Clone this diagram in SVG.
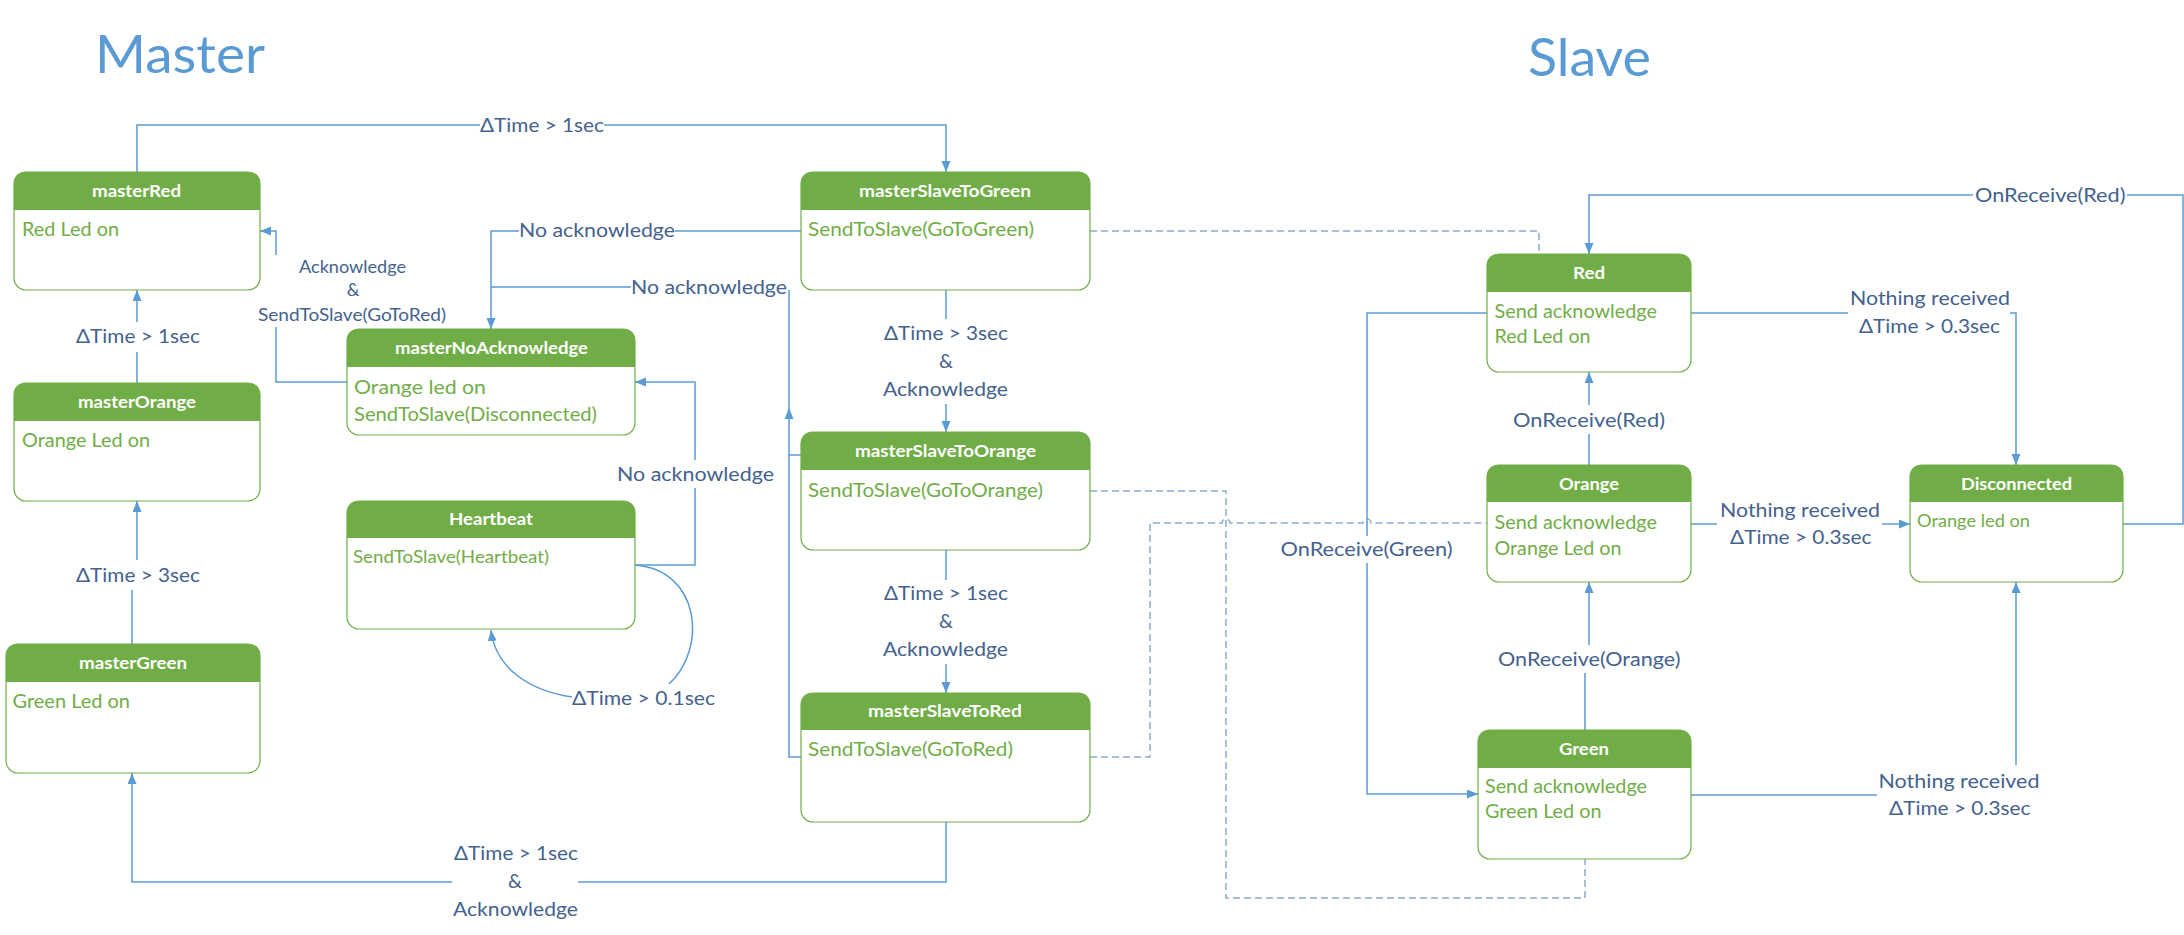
<svg xmlns="http://www.w3.org/2000/svg" width="2184" height="935" viewBox="0 0 2184 935">
<defs>
<style>
.box{fill:#fff;stroke:#70AD47;stroke-width:1.2}
.hd{fill:#70AD47}
.tt{font-family:Lato,"Liberation Sans",sans-serif;font-weight:bold;font-size:17px;fill:#fff}
.bd{font-family:Lato,"Liberation Sans",sans-serif;font-size:18.5px;fill:#70AD47}
.lb{font-family:Lato,"Liberation Sans",sans-serif;font-size:19.5px;fill:#44628E}
.lbs{font-family:Lato,"Liberation Sans",sans-serif;font-size:17.7px;fill:#44628E}
.ti{font-family:Lato,"Liberation Sans",sans-serif;font-size:53px;fill:#5B9BD5}
.cn{fill:none;stroke:#5B9BD5;stroke-width:1.5}
.ds{fill:none;stroke:#8FAACC;stroke-width:1.5;stroke-dasharray:7 4}
</style>
<marker id="ar" markerUnits="userSpaceOnUse" markerWidth="12" markerHeight="10" refX="11" refY="4.5" orient="auto">
<path d="M0,0 L11,4.5 L0,9 z" fill="#5B9BD5"/>
</marker>
</defs>
<rect width="2184" height="935" fill="#fff"/>

<text class="ti" x="95" y="73" textLength="170" lengthAdjust="spacingAndGlyphs">Master</text>
<text class="ti" x="1528" y="76" textLength="123" lengthAdjust="spacingAndGlyphs">Slave</text>

<g id="connectors">
<path class="cn" d="M137,172 V125 H480 M604,125 H946 V172" marker-end="url(#ar)"/>
<path class="cn" d="M137,383 V352 M137,322 V290" marker-end="url(#ar)"/>
<path class="cn" d="M132,644 V590 M137,560 V501" marker-end="url(#ar)"/>
<path class="cn" d="M946,822 V882 H578 M452,882 H132 V773" marker-end="url(#ar)"/>
<path class="cn" d="M347,382 H276 V327 M276,255 V231 H260" marker-end="url(#ar)"/>
<path class="cn" d="M801,231 H675 M519,231 H491 V329" marker-end="url(#ar)"/>
<path class="cn" d="M801,757 H789 V290 M801,455 H789 M631,287 H491"/>
<polygon points="789,408 784.5,419 793.5,419" fill="#5B9BD5"/>
<path class="cn" d="M635,565 H695 V488 M695,460 V382 H635" marker-end="url(#ar)"/>
<path class="cn" d="M635,565 C700,570 708,648 669,684"/>
<path class="cn" d="M572,697 C525,690 495,665 491,630" marker-end="url(#ar)"/>
<path class="cn" d="M946,290 V319 M946,404 V432" marker-end="url(#ar)"/>
<path class="cn" d="M946,550 V580 M946,664 V693" marker-end="url(#ar)"/>
<path class="ds" d="M1090,231 H1539 V254"/>
<path class="ds" d="M1090,491 H1226 V898 H1585 V859"/>
<path class="ds" d="M1090,757 H1150 V523 H1222 a4,4 0 0 1 8,0 H1363 a4,4 0 0 1 8,0 H1487"/>
<path class="cn" d="M1487,313 H1367 V536 M1367,563 V794 H1478" marker-end="url(#ar)"/>
<path class="cn" d="M2123,524 H2183 V195 H2127 M1973,195 H1589 V254" marker-end="url(#ar)"/>
<path class="cn" d="M1691,313 H1848 M2010,313 H2016 V465" marker-end="url(#ar)"/>
<path class="cn" d="M1589,465 V434 M1589,405 V372" marker-end="url(#ar)"/>
<path class="cn" d="M1691,524 H1717 M1882,524 H1910" marker-end="url(#ar)"/>
<path class="cn" d="M1585,730 V673 M1589,645 V582" marker-end="url(#ar)"/>
<path class="cn" d="M1691,795 H1877 M2016,765 V582" marker-end="url(#ar)"/>
</g>

<g id="labels">
<text class="lb" x="480" y="132" textLength="124" lengthAdjust="spacingAndGlyphs">ΔTime &gt; 1sec</text>
<text class="lb" x="519" y="237" textLength="156" lengthAdjust="spacingAndGlyphs">No acknowledge</text>
<text class="lb" x="631" y="294" textLength="156" lengthAdjust="spacingAndGlyphs">No acknowledge</text>
<text class="lbs" x="299" y="273" textLength="107" lengthAdjust="spacingAndGlyphs">Acknowledge</text>
<text class="lbs" x="353" y="296" text-anchor="middle">&amp;</text>
<text class="lbs" x="258" y="321" textLength="188" lengthAdjust="spacingAndGlyphs">SendToSlave(GoToRed)</text>
<text class="lb" x="76" y="343" textLength="124" lengthAdjust="spacingAndGlyphs">ΔTime &gt; 1sec</text>
<text class="lb" x="76" y="582" textLength="124" lengthAdjust="spacingAndGlyphs">ΔTime &gt; 3sec</text>
<text class="lb" x="617" y="481" textLength="157" lengthAdjust="spacingAndGlyphs">No acknowledge</text>
<text class="lb" x="572" y="705" textLength="143" lengthAdjust="spacingAndGlyphs">ΔTime &gt; 0.1sec</text>
<text class="lb" x="454" y="860" textLength="124" lengthAdjust="spacingAndGlyphs">ΔTime &gt; 1sec</text>
<text class="lb" x="515" y="888" text-anchor="middle">&amp;</text>
<text class="lb" x="453" y="916" textLength="125" lengthAdjust="spacingAndGlyphs">Acknowledge</text>
<text class="lb" x="884" y="340" textLength="124" lengthAdjust="spacingAndGlyphs">ΔTime &gt; 3sec</text>
<text class="lb" x="946" y="368" text-anchor="middle">&amp;</text>
<text class="lb" x="883" y="396" textLength="125" lengthAdjust="spacingAndGlyphs">Acknowledge</text>
<text class="lb" x="884" y="600" textLength="124" lengthAdjust="spacingAndGlyphs">ΔTime &gt; 1sec</text>
<text class="lb" x="946" y="628" text-anchor="middle">&amp;</text>
<text class="lb" x="883" y="656" textLength="125" lengthAdjust="spacingAndGlyphs">Acknowledge</text>
<text class="lb" x="1280.5" y="556" textLength="172" lengthAdjust="spacingAndGlyphs">OnReceive(Green)</text>
<text class="lb" x="1975" y="202" textLength="150.5" lengthAdjust="spacingAndGlyphs">OnReceive(Red)</text>
<text class="lb" x="1850" y="305" textLength="160" lengthAdjust="spacingAndGlyphs">Nothing received</text>
<text class="lb" x="1859" y="333" textLength="141" lengthAdjust="spacingAndGlyphs">ΔTime &gt; 0.3sec</text>
<text class="lb" x="1513" y="427" textLength="152" lengthAdjust="spacingAndGlyphs">OnReceive(Red)</text>
<text class="lb" x="1720" y="517" textLength="160" lengthAdjust="spacingAndGlyphs">Nothing received</text>
<text class="lb" x="1730" y="544" textLength="141.5" lengthAdjust="spacingAndGlyphs">ΔTime &gt; 0.3sec</text>
<text class="lb" x="1498" y="666" textLength="182.5" lengthAdjust="spacingAndGlyphs">OnReceive(Orange)</text>
<text class="lb" x="1878.5" y="788" textLength="161" lengthAdjust="spacingAndGlyphs">Nothing received</text>
<text class="lb" x="1889" y="815" textLength="141.5" lengthAdjust="spacingAndGlyphs">ΔTime &gt; 0.3sec</text>
</g>

<g id="masterRed">
<rect class="box" x="14" y="172" width="246" height="118" rx="12"/>
<path class="hd" d="M14,210 V184 Q14,172 26,172 H248 Q260,172 260,184 V210 Z"/>
<text class="tt" x="92" y="197" textLength="89" lengthAdjust="spacingAndGlyphs">masterRed</text>
<text class="bd" x="22" y="236" textLength="97" lengthAdjust="spacingAndGlyphs">Red Led on</text>
</g>
<g id="masterOrange">
<rect class="box" x="14" y="383" width="246" height="118" rx="12"/>
<path class="hd" d="M14,421 V395 Q14,383 26,383 H248 Q260,383 260,395 V421 Z"/>
<text class="tt" x="78" y="408" textLength="118" lengthAdjust="spacingAndGlyphs">masterOrange</text>
<text class="bd" x="22" y="447" textLength="128" lengthAdjust="spacingAndGlyphs">Orange Led on</text>
</g>
<g id="masterGreen">
<rect class="box" x="6" y="644" width="254" height="129" rx="12"/>
<path class="hd" d="M6,682 V656 Q6,644 18,644 H248 Q260,644 260,656 V682 Z"/>
<text class="tt" x="79" y="669" textLength="108" lengthAdjust="spacingAndGlyphs">masterGreen</text>
<text class="bd" x="12.5" y="708" textLength="117.5" lengthAdjust="spacingAndGlyphs">Green Led on</text>
</g>
<g id="masterNoAcknowledge">
<rect class="box" x="347" y="329" width="288" height="106" rx="12"/>
<path class="hd" d="M347,367 V341 Q347,329 359,329 H623 Q635,329 635,341 V367 Z"/>
<text class="tt" x="395" y="354" textLength="193" lengthAdjust="spacingAndGlyphs">masterNoAcknowledge</text>
<text class="bd" x="354" y="394" textLength="132" lengthAdjust="spacingAndGlyphs">Orange led on</text>
<text class="bd" x="354" y="421" textLength="243" lengthAdjust="spacingAndGlyphs">SendToSlave(Disconnected)</text>
</g>
<g id="Heartbeat">
<rect class="box" x="347" y="501" width="288" height="128" rx="12"/>
<path class="hd" d="M347,538 V513 Q347,501 359,501 H623 Q635,501 635,513 V538 Z"/>
<text class="tt" x="449" y="525" textLength="84" lengthAdjust="spacingAndGlyphs">Heartbeat</text>
<text class="bd" x="353" y="563" style="font-size:17.5px" textLength="196" lengthAdjust="spacingAndGlyphs">SendToSlave(Heartbeat)</text>
</g>
<g id="masterSlaveToGreen">
<rect class="box" x="801" y="172" width="289" height="118" rx="12"/>
<path class="hd" d="M801,210 V184 Q801,172 813,172 H1078 Q1090,172 1090,184 V210 Z"/>
<text class="tt" x="859" y="197" textLength="172" lengthAdjust="spacingAndGlyphs">masterSlaveToGreen</text>
<text class="bd" x="808" y="236" textLength="226" lengthAdjust="spacingAndGlyphs">SendToSlave(GoToGreen)</text>
</g>
<g id="masterSlaveToOrange">
<rect class="box" x="801" y="432" width="289" height="118" rx="12"/>
<path class="hd" d="M801,470 V444 Q801,432 813,432 H1078 Q1090,432 1090,444 V470 Z"/>
<text class="tt" x="855" y="457" textLength="181" lengthAdjust="spacingAndGlyphs">masterSlaveToOrange</text>
<text class="bd" x="808" y="497" textLength="235" lengthAdjust="spacingAndGlyphs">SendToSlave(GoToOrange)</text>
</g>
<g id="masterSlaveToRed">
<rect class="box" x="801" y="693" width="289" height="129" rx="12"/>
<path class="hd" d="M801,730 V705 Q801,693 813,693 H1078 Q1090,693 1090,705 V730 Z"/>
<text class="tt" x="868" y="717" textLength="154" lengthAdjust="spacingAndGlyphs">masterSlaveToRed</text>
<text class="bd" x="808" y="756" textLength="205" lengthAdjust="spacingAndGlyphs">SendToSlave(GoToRed)</text>
</g>
<g id="Red">
<rect class="box" x="1487" y="254" width="204" height="118" rx="12"/>
<path class="hd" d="M1487,292 V266 Q1487,254 1499,254 H1679 Q1691,254 1691,266 V292 Z"/>
<text class="tt" x="1573" y="279" textLength="32" lengthAdjust="spacingAndGlyphs">Red</text>
<text class="bd" x="1494.5" y="318" textLength="162.5" lengthAdjust="spacingAndGlyphs">Send acknowledge</text>
<text class="bd" x="1494.5" y="343" textLength="96" lengthAdjust="spacingAndGlyphs">Red Led on</text>
</g>
<g id="Orange">
<rect class="box" x="1487" y="465" width="204" height="117" rx="12"/>
<path class="hd" d="M1487,502 V477 Q1487,465 1499,465 H1679 Q1691,465 1691,477 V502 Z"/>
<text class="tt" x="1559" y="490" textLength="60" lengthAdjust="spacingAndGlyphs">Orange</text>
<text class="bd" x="1494.5" y="529" textLength="162.5" lengthAdjust="spacingAndGlyphs">Send acknowledge</text>
<text class="bd" x="1494.5" y="555" textLength="127" lengthAdjust="spacingAndGlyphs">Orange Led on</text>
</g>
<g id="Disconnected">
<rect class="box" x="1910" y="465" width="213" height="117" rx="12"/>
<path class="hd" d="M1910,502 V477 Q1910,465 1922,465 H2111 Q2123,465 2123,477 V502 Z"/>
<text class="tt" x="1961" y="490" textLength="111" lengthAdjust="spacingAndGlyphs">Disconnected</text>
<text class="bd" x="1917" y="527" style="font-size:17px" textLength="113" lengthAdjust="spacingAndGlyphs">Orange led on</text>
</g>
<g id="Green">
<rect class="box" x="1478" y="730" width="213" height="129" rx="12"/>
<path class="hd" d="M1478,768 V742 Q1478,730 1490,730 H1679 Q1691,730 1691,742 V768 Z"/>
<text class="tt" x="1559" y="755" textLength="50" lengthAdjust="spacingAndGlyphs">Green</text>
<text class="bd" x="1485" y="793" textLength="162" lengthAdjust="spacingAndGlyphs">Send acknowledge</text>
<text class="bd" x="1485" y="818" textLength="116.5" lengthAdjust="spacingAndGlyphs">Green Led on</text>
</g>
</svg>
